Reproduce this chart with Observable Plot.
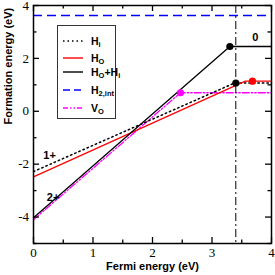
<!DOCTYPE html>
<html>
<head>
<meta charset="utf-8">
<script src="https://cdn.jsdelivr.net/npm/d3@7"></script>
<script src="https://cdn.jsdelivr.net/npm/@observablehq/plot@0.6"></script>
<style>
  html, body { margin: 0; padding: 0; background: #fff; }
  #wrap { position: relative; width: 275px; height: 275px; }
  #legend { position: absolute; left: 57px; top: 25px; width: 57px; height: 92px;
            border: 1px solid #333; background: #fff; font-family: "Liberation Sans", Arial, sans-serif;
            font-weight: bold; font-size: 10.5px; color: #000; }
  .row { position: absolute; left: 0; height: 12px; }
  .row svg { position: absolute; left: 4px; top: 0; }
  .row span { position: absolute; left: 33px; top: 0; line-height: 12px; white-space: nowrap; }
  .row sub { font-size: 7.5px; vertical-align: -2px; line-height: 0; }
</style>
</head>
<body>
<div id="wrap"></div>
<script>
// Axis domains and ticks
const xDomain = [0, 4];
const yDomain = [-5, 4];
const xMajorTicks = [0, 1, 2, 3, 4];
const xMinorTicks = [0.5, 1.5, 2.5, 3.5];
const yMajorTicks = [-4, -2, 0, 2, 4];
const yMinorTicks = [-5, -3, -1, 1, 3];

// Series (Fermi energy, formation energy)
const hiX = [0, 3.38, 4];
const hiY = [-2.28, 1.07, 1.07];
const hoX = [0, 3.56, 4];
const hoY = [-2.48, 1.14, 1.14];
const hohiX = [0, 3.30, 4];
const hohiY = [-4.03, 2.45, 2.45];
const voX = [0, 2.47, 4];
const voY = [-4.1, 0.70, 0.70];
const h2intY = 3.62;
const bandGapX = 3.40;

// Transition-level points
const dotX = [3.30, 3.40, 3.68, 2.47];
const dotY = [2.45, 1.07, 1.14, 0.70];
const dotColor = ["#000", "#000", "#ff0000", "#ff00ff"];

// Charge-state annotations
const chargeText = ["1+", "2+", "0"];
const chargeX = [0.27, 0.33, 3.73];
const chargeY = [-1.66, -3.25, 2.78];

const toRows = (xs, ys) => xs.map((x, i) => ({x, y: ys[i]}));
const dots = dotX.map((x, i) => ({x, y: dotY[i], c: dotColor[i]}));
const charges = chargeText.map((t, i) => ({t, x: chargeX[i], y: chargeY[i]}));

const serif = "Liberation Serif, Times New Roman, serif";
const sans = "Liberation Sans, Arial, sans-serif";

const W = 275, H = 275, ML = 33, MR = 4, MT = 5, MB = 32;
const frameW = W - ML - MR, frameH = H - MT - MB;
const major = 6, minor = 3.5, tw = 1.3;

const chart = Plot.plot({
  width: W,
  height: H,
  marginLeft: ML,
  marginRight: MR,
  marginTop: MT,
  marginBottom: MB,
  style: {fontFamily: serif, fontSize: "13px", color: "#000", background: "#fff"},
  x: {domain: xDomain},
  y: {domain: yDomain},
  marks: [
    // lines
    Plot.ruleY([h2intY], {stroke: "#0000ff", strokeWidth: 1.6, strokeDasharray: "9,5"}),
    Plot.line(toRows(voX, voY), {x: "x", y: "y", stroke: "#ff00ff", strokeWidth: 1.3, strokeDasharray: "7,2,1.5,2,1.5,2"}),
    Plot.line(toRows(hiX, hiY), {x: "x", y: "y", stroke: "#000", strokeWidth: 1.5, strokeDasharray: "1.5,3"}),
    Plot.line(toRows(hoX, hoY), {x: "x", y: "y", stroke: "#ff0000", strokeWidth: 1.2}),
    Plot.line(toRows(hohiX, hohiY), {x: "x", y: "y", stroke: "#000", strokeWidth: 1.3}),
    Plot.ruleX([bandGapX], {stroke: "#000", strokeWidth: 1, strokeDasharray: "8,3,2,3"}),
    Plot.dot(dots, {x: "x", y: "y", fill: "c", r: 3.6, stroke: null}),
    Plot.text(charges, {x: "x", y: "y", text: "t", fontFamily: sans, fontWeight: "bold", fontSize: 11, fill: "#000"}),
    // inward ticks on all four sides
    Plot.tickX(xMajorTicks, {x: d => d, insetTop: frameH - major, stroke: "#000", strokeWidth: tw}),
    Plot.tickX(xMinorTicks, {x: d => d, insetTop: frameH - minor, stroke: "#000", strokeWidth: tw}),
    Plot.tickX(xMajorTicks, {x: d => d, insetBottom: frameH - major, stroke: "#000", strokeWidth: tw}),
    Plot.tickX(xMinorTicks, {x: d => d, insetBottom: frameH - minor, stroke: "#000", strokeWidth: tw}),
    Plot.tickY(yMajorTicks, {y: d => d, insetRight: frameW - major, stroke: "#000", strokeWidth: tw}),
    Plot.tickY(yMinorTicks, {y: d => d, insetRight: frameW - minor, stroke: "#000", strokeWidth: tw}),
    Plot.tickY(yMajorTicks, {y: d => d, insetLeft: frameW - major, stroke: "#000", strokeWidth: tw}),
    Plot.tickY(yMinorTicks, {y: d => d, insetLeft: frameW - minor, stroke: "#000", strokeWidth: tw}),
    // tick labels
    Plot.axisX(xMajorTicks, {anchor: "bottom", tickSize: 0, tickPadding: 4, tickFormat: d => String(d), label: null, fontSize: 13}),
    Plot.axisY(yMajorTicks, {anchor: "left", tickSize: 0, tickPadding: 4.5, tickFormat: d => String(d), label: null, fontSize: 13}),
    // titles
    Plot.text(["Fermi energy (eV)"], {frameAnchor: "bottom", dy: 26, fontFamily: sans, fontWeight: "bold", fontSize: 11, fill: "#000"}),
    Plot.text(["Formation energy (eV)"], {frameAnchor: "left", dx: -25, rotate: -90, fontFamily: sans, fontWeight: "bold", fontSize: 11, fill: "#000"}),
    Plot.frame({stroke: "#000", strokeWidth: 1.5})
  ]
});

const wrap = document.getElementById("wrap");
wrap.appendChild(chart);

// Legend
const legendNames = ["H<sub>i</sub>", "H<sub>O</sub>", "H<sub>O</sub>+H<sub>i</sub>", "H<sub>2,int</sub>", "V<sub>O</sub>"];
const legendColors = ["#000", "#ff0000", "#000", "#0000ff", "#ff00ff"];
const legendDash = ["1.5,3", null, null, "7,4", "5,2,1.5,2,1.5,2"];
const legendRowTop = [9, 26, 40, 58, 76];
const legend = document.createElement("div");
legend.id = "legend";
legendNames.forEach((name, i) => {
  const row = document.createElement("div");
  row.className = "row";
  row.style.top = legendRowTop[i] + "px";
  row.style.width = "57px";
  const dash = legendDash[i] ? ` stroke-dasharray="${legendDash[i]}"` : "";
  row.innerHTML = `<svg width="22" height="12"><line x1="1" x2="21" y1="6" y2="6" stroke="${legendColors[i]}" stroke-width="${i === 3 ? 1.6 : 1.4}"${dash}/></svg><span>${name}</span>`;
  legend.appendChild(row);
});
wrap.appendChild(legend);
</script>
</body>
</html>
